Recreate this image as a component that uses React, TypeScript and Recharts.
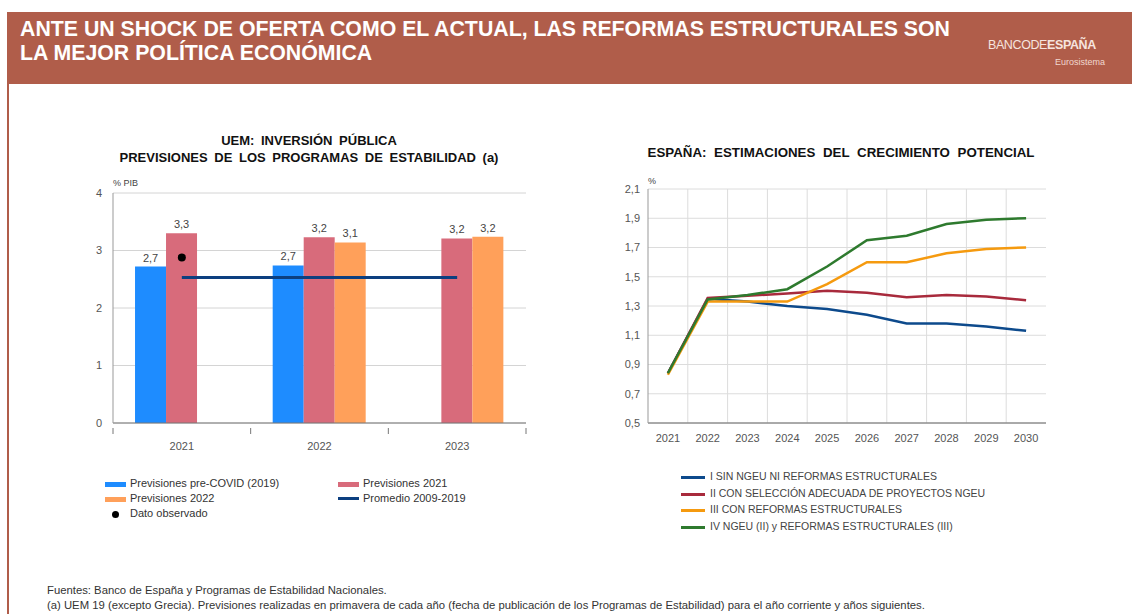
import React from "react";
import {
  Bar,
  CartesianGrid,
  ComposedChart,
  LabelList,
  Line,
  XAxis,
  YAxis
} from "recharts";

// ---- left chart: public investment forecasts
const investYears = ["2021", "2022", "2023"];
const preCovid = [2.72, 2.74, null];
const prev2021 = [3.3, 3.23, 3.21];
const prev2022 = [null, 3.14, 3.24];
const observed = [2.88, null, null];
const promedio = [2.53, 2.53, 2.53];
const investTicks = [0, 1, 2, 3, 4];

// ---- right chart: potential growth scenarios
const growthYears = ["2021", "2022", "2023", "2024", "2025", "2026", "2027", "2028", "2029", "2030"];
const sinNgeu = [0.84, 1.35, 1.33, 1.3, 1.28, 1.24, 1.18, 1.18, 1.16, 1.13];
const seleccion = [0.84, 1.355, 1.37, 1.385, 1.405, 1.39, 1.36, 1.375, 1.365, 1.34];
const reformas = [0.83, 1.33, 1.33, 1.33, 1.45, 1.6, 1.6, 1.66, 1.69, 1.7];
const ngeuReformas = [0.84, 1.345, 1.375, 1.415, 1.57, 1.75, 1.78, 1.86, 1.89, 1.9];
const growthTicks = [0.5, 0.7, 0.9, 1.1, 1.3, 1.5, 1.7, 1.9, 2.1];

const investData = investYears.map((year, i) => ({
  year,
  preCovid: preCovid[i],
  prev2021: prev2021[i],
  prev2022: prev2022[i],
  observed: observed[i],
  promedio: promedio[i]
}));

const growthData = growthYears.map((year, i) => ({
  year,
  sinNgeu: sinNgeu[i],
  seleccion: seleccion[i],
  reformas: reformas[i],
  ngeuReformas: ngeuReformas[i]
}));

const FONT = '"Liberation Sans", Arial, Helvetica, sans-serif';
const HEADER = "#b05d4a";

const C_BLUE = "#1e8cff";
const C_PINK = "#d86b7b";
const C_ORANGE = "#ffa05a";
const C_NAVY = "#0c3f80";

const G_BLUE = "#0d4a8c";
const G_RED = "#a82a3c";
const G_ORANGE = "#f59a0f";
const G_GREEN = "#2e7a2e";

const comma = (v: number | null, d = 1) => (v == null ? "" : v.toFixed(d).replace(".", ","));

// left chart geometry
const L_W = 560;
const L_H = 290;
const L_MARGIN = { top: 23, right: 34, bottom: 0, left: 63 };
const L_YAXIS_W = 50;
const L_PLOT_W = L_W - L_MARGIN.left - L_MARGIN.right - L_YAXIS_W;
const L_HALF_BAND = L_PLOT_W / investYears.length / 2;

function InvestTick(props: any) {
  const { x, y, payload, index } = props;
  const last = index === investYears.length - 1;
  return (
    <g>
      <line x1={x - L_HALF_BAND} x2={x - L_HALF_BAND} y1={y - 3} y2={y + 3} stroke="#777" />
      {last ? <line x1={x + L_HALF_BAND} x2={x + L_HALF_BAND} y1={y - 3} y2={y + 3} stroke="#777" /> : null}
      <text x={x} y={y + 19} textAnchor="middle" fill="#555" fontSize={11} fontFamily={FONT}>
        {payload.value}
      </text>
    </g>
  );
}

function InvestmentChart() {
  return (
    <ComposedChart
      width={L_W}
      height={L_H}
      data={investData}
      margin={L_MARGIN}
      barGap={0}
      barCategoryGap="16%"
    >
      <CartesianGrid stroke="#d4d4d4" vertical={false} />
      <XAxis
        dataKey="year"
        height={37}
        axisLine={{ stroke: "#777" }}
        tickLine={false}
        tick={<InvestTick />}
        interval={0}
      />
      <YAxis
        width={L_YAXIS_W}
        domain={[0, 4]}
        ticks={investTicks}
        axisLine={{ stroke: "#999" }}
        tickLine={false}
        tickSize={0}
        tickMargin={11}
        tick={{ fill: "#555", fontSize: 11, fontFamily: FONT }}
      />
      <Bar dataKey="preCovid" fill={C_BLUE} isAnimationActive={false}>
        <LabelList dataKey="preCovid" position="top" formatter={(v: any) => comma(v)} fill="#444" fontSize={11} fontFamily={FONT} />
      </Bar>
      <Bar dataKey="prev2021" fill={C_PINK} isAnimationActive={false}>
        <LabelList dataKey="prev2021" position="top" formatter={(v: any) => comma(v)} fill="#444" fontSize={11} fontFamily={FONT} />
      </Bar>
      <Bar dataKey="prev2022" fill={C_ORANGE} isAnimationActive={false}>
        <LabelList dataKey="prev2022" position="top" formatter={(v: any) => comma(v)} fill="#444" fontSize={11} fontFamily={FONT} />
      </Bar>
      <Line
        dataKey="promedio"
        stroke={C_NAVY}
        strokeWidth={3}
        dot={false}
        isAnimationActive={false}
      />
      <Line
        dataKey="observed"
        stroke="none"
        dot={{ r: 4, fill: "#000", stroke: "#000", strokeWidth: 0 }}
        isAnimationActive={false}
      />
    </ComposedChart>
  );
}

function GrowthChart() {
  return (
    <ComposedChart
      width={480}
      height={290}
      data={growthData}
      margin={{ top: 29, right: 14, bottom: 5, left: 28 }}
    >
      <CartesianGrid
        stroke="#dcdcdc"
        verticalCoordinatesGenerator={({ offset }: any) =>
          growthYears.slice(1).map((_, i) => offset.left + ((i + 1) * offset.width) / growthYears.length)
        }
      />
      <XAxis
        dataKey="year"
        scale="band"
        height={22}
        interval={0}
        axisLine={{ stroke: "#666" }}
        tickLine={false}
        tickMargin={5}
        tick={{ fill: "#555", fontSize: 11, fontFamily: FONT }}
      />
      <YAxis
        width={40}
        domain={[0.5, 2.1]}
        ticks={growthTicks}
        interval={0}
        axisLine={{ stroke: "#999" }}
        tickLine={false}
        tickSize={0}
        tickMargin={8}
        tickFormatter={(v: number) => comma(v)}
        tick={{ fill: "#555", fontSize: 11, fontFamily: FONT }}
      />
      <Line dataKey="sinNgeu" stroke={G_BLUE} strokeWidth={2.5} dot={false} isAnimationActive={false} />
      <Line dataKey="seleccion" stroke={G_RED} strokeWidth={2.5} dot={false} isAnimationActive={false} />
      <Line dataKey="reformas" stroke={G_ORANGE} strokeWidth={2.5} dot={false} isAnimationActive={false} />
      <Line dataKey="ngeuReformas" stroke={G_GREEN} strokeWidth={2.5} dot={false} isAnimationActive={false} />
    </ComposedChart>
  );
}

const legendText: React.CSSProperties = { fontSize: 11, color: "#333", fontFamily: FONT, whiteSpace: "nowrap" };

function Swatch({ x, y, color }: { x: number; y: number; color: string }) {
  return <div style={{ position: "absolute", left: x, top: y - 2, width: 21, height: 5, background: color }} />;
}

function InvestLegend() {
  const rows = [
    { x: 105, y: 484, color: C_BLUE, label: "Previsiones pre-COVID (2019)" },
    { x: 338, y: 484, color: C_PINK, label: "Previsiones 2021" },
    { x: 105, y: 499, color: C_ORANGE, label: "Previsiones 2022" }
  ];
  return (
    <>
      {rows.map((r) => (
        <React.Fragment key={r.label}>
          <Swatch x={r.x} y={r.y} color={r.color} />
          <div style={{ ...legendText, position: "absolute", left: r.x + 25, top: r.y - 7 }}>{r.label}</div>
        </React.Fragment>
      ))}
      <div style={{ position: "absolute", left: 338, top: 497, width: 21, height: 3, background: C_NAVY }} />
      <div style={{ ...legendText, position: "absolute", left: 363, top: 492 }}>Promedio 2009-2019</div>
      <div style={{ position: "absolute", left: 112, top: 511, width: 7, height: 7, borderRadius: 4, background: "#000" }} />
      <div style={{ ...legendText, position: "absolute", left: 130, top: 507 }}>Dato observado</div>
    </>
  );
}

function GrowthLegend() {
  const rows = [
    { color: G_BLUE, label: "I SIN NGEU NI REFORMAS ESTRUCTURALES" },
    { color: G_RED, label: "II CON SELECCIÓN ADECUADA DE PROYECTOS NGEU" },
    { color: G_ORANGE, label: "III CON REFORMAS ESTRUCTURALES" },
    { color: G_GREEN, label: "IV NGEU (II) y REFORMAS ESTRUCTURALES (III)" }
  ];
  return (
    <>
      {rows.map((r, i) => (
        <React.Fragment key={r.label}>
          <div style={{ position: "absolute", left: 681, top: 476 + i * 16.5, width: 24, height: 3, background: r.color }} />
          <div style={{ ...legendText, fontSize: 10.5, color: "#444", position: "absolute", left: 710, top: 470 + i * 16.5 }}>
            {r.label}
          </div>
        </React.Fragment>
      ))}
    </>
  );
}

export default function App() {
  return (
    <div style={{ position: "absolute", left: 0, top: 0, width: 1132, height: 614, background: "#fff", overflow: "hidden", fontFamily: FONT }}>
      {/* header band */}
      <div style={{ position: "absolute", left: 7, top: 12, width: 1125, height: 72, background: HEADER }} />
      <div style={{ position: "absolute", left: 7, top: 84, width: 2, height: 530, background: HEADER }} />
      <div
        style={{
          position: "absolute",
          left: 20,
          top: 17,
          color: "#fff",
          fontWeight: 700,
          fontSize: 21.3,
          lineHeight: "24px",
          whiteSpace: "nowrap"
        }}
      >
        ANTE UN SHOCK DE OFERTA COMO EL ACTUAL, LAS REFORMAS ESTRUCTURALES SON
        <br />
        LA MEJOR POLÍTICA ECONÓMICA
      </div>
      <div style={{ position: "absolute", left: 988, top: 38, color: "#f6e4df", fontSize: 12.5, whiteSpace: "nowrap", letterSpacing: -0.4 }}>
        <span style={{ fontWeight: 300 }}>BANCO</span>
        <span style={{ fontWeight: 300 }}>DE</span>
        <span style={{ fontWeight: 700 }}>ESPAÑA</span>
      </div>
      <div style={{ position: "absolute", left: 1055, top: 57, color: "#f1d8d0", fontSize: 9, whiteSpace: "nowrap" }}>Eurosistema</div>

      {/* left chart */}
      <div style={{ position: "absolute", left: 0, top: 132, width: 618, textAlign: "center", fontWeight: 700, fontSize: 13, lineHeight: "17px", color: "#111", wordSpacing: 3 }}>
        UEM: INVERSIÓN PÚBLICA
        <br />
        PREVISIONES DE LOS PROGRAMAS DE ESTABILIDAD (a)
      </div>
      <div style={{ position: "absolute", left: 113, top: 178, fontSize: 9, color: "#444" }}>% PIB</div>
      <div style={{ position: "absolute", left: 0, top: 170 }}>
        <InvestmentChart />
      </div>
      <InvestLegend />

      {/* right chart */}
      <div style={{ position: "absolute", left: 640, top: 145, width: 402, textAlign: "center", fontWeight: 700, fontSize: 13.3, color: "#111", whiteSpace: "nowrap", wordSpacing: 4 }}>
        ESPAÑA: ESTIMACIONES DEL CRECIMIENTO POTENCIAL
      </div>
      <div style={{ position: "absolute", left: 648, top: 176, fontSize: 9, color: "#444" }}>%</div>
      <div style={{ position: "absolute", left: 580, top: 160 }}>
        <GrowthChart />
      </div>
      <GrowthLegend />

      {/* footer */}
      <div style={{ position: "absolute", left: 47, top: 583, fontSize: 11.3, lineHeight: "15px", color: "#333", whiteSpace: "nowrap" }}>
        Fuentes: Banco de España y Programas de Estabilidad Nacionales.
        <br />
        (a) UEM 19 (excepto Grecia). Previsiones realizadas en primavera de cada año (fecha de publicación de los Programas de Estabilidad) para el año corriente y años siguientes.
      </div>
    </div>
  );
}
